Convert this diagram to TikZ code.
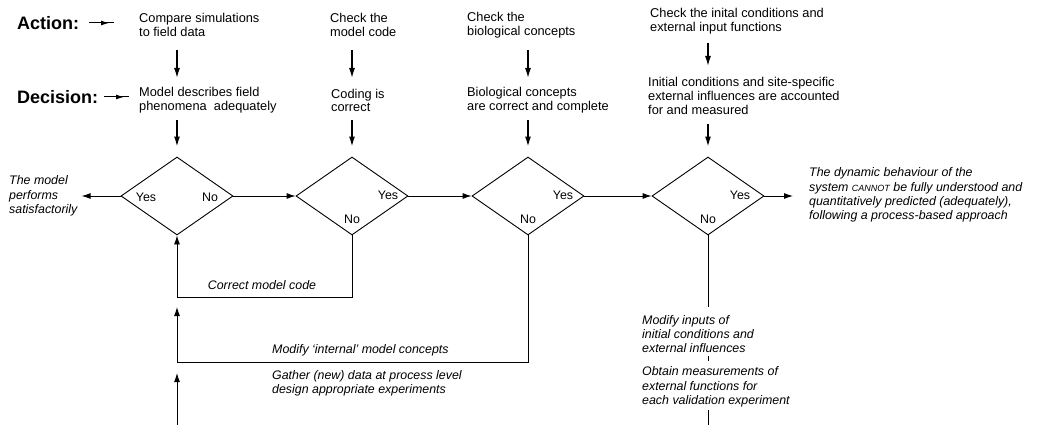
\documentclass[tikz,border=0pt]{standalone}
\usepackage{fontspec}
\setmainfont{Liberation Sans}
\usetikzlibrary{arrows.meta,shapes.geometric,decorations.markings}
\begin{document}
\begin{tikzpicture}[x=1pt,y=-1pt,
  txt/.style={anchor=west,align=left,inner sep=0pt,font=\fontsize{12.8}{13.8}\selectfont},
  itxt/.style={anchor=west,align=left,inner sep=0pt,font=\fontsize{12.4}{14.4}\selectfont\itshape},
  big/.style={anchor=west,inner sep=0pt,font=\fontsize{18}{20}\selectfont\bfseries},
  dia/.style={draw,diamond,minimum width=112pt,minimum height=78pt,inner sep=0pt,line width=0.9pt},
  lab/.style={inner sep=0pt,font=\fontsize{12.4}{13}\selectfont},
  arr/.style={line width=0.9pt,-{Latex[length=9pt,width=6pt]}},
  varr/.style={line width=1.4pt,-{Latex[length=10pt,width=6pt]}},
  ln/.style={line width=0.9pt},
  midarr/.style={line width=1pt,postaction={decorate},
    decoration={markings,mark=at position 0.8 with {\arrow{Latex[length=8pt,width=5pt]}}}},
]
\fill[white] (0,0) rectangle (1045,425);
\useasboundingbox (0,0) rectangle (1045,425);

% row labels
\node[big] (act) at (17,23) {Action:};
\node[big] (dec) at (17,97) {Decision:};
\coordinate (actA) at (89,23);  \coordinate (actB) at (114,23);
\coordinate (decA) at (104,97); \coordinate (decB) at (129,97);
\draw[midarr] (actA) -- (actB);
\draw[midarr] (decA) -- (decB);

% action texts
\node[txt] (a1) at (139,25) {Compare simulations\\to field data};
\node[txt] (a2) at (330,25) {Check the\\model code};
\node[txt] (a3) at (467,25) {Check the\\biological concepts};
\node[txt] (a4) at (650,21) {Check the inital conditions and\\external input functions};

% decision texts
\node[txt] (b1) at (139,100.5) {Model describes field\\phenomena\ \ adequately};
\node[txt] (b2) at (331,100.5) {Coding is\\correct};
\node[txt] (b3) at (467,100.5) {Biological concepts\\are correct and complete};
\node[txt] (b4) at (648,96) {Initial conditions and site-specific\\external influences are accounted\\for and measured};

% diamonds
\node[dia] (d1) at (177,196) {};
\node[dia] (d2) at (352,196) {};
\node[dia] (d3) at (528,196) {};
\node[dia] (d4) at (708,196) {};

\node[lab] (y1) at (146,197) {Yes};
\node[lab] (n1) at (210,197) {No};
\node[lab] (y2) at (388,195) {Yes};
\node[lab] (n2) at (352,219) {No};
\node[lab] (y3) at (563,195) {Yes};
\node[lab] (n3) at (528,219) {No};
\node[lab] (y4) at (740,195) {Yes};
\node[lab] (n4) at (708,219) {No};

% vertical arrows
\coordinate (s1) at (177,50);  \coordinate (e1) at (177,78);  \coordinate (f1) at (177,120);
\coordinate (s2) at (352,50);  \coordinate (e2) at (352,78);  \coordinate (f2) at (352,120);
\coordinate (s3) at (528,50);  \coordinate (e3) at (528,78);  \coordinate (f3) at (528,120);
\coordinate (s4) at (708,43);  \coordinate (e4) at (708,66);  \coordinate (f4) at (708,124);
\foreach \i in {1,2,3,4}{
  \draw[varr] (s\i) -- (e\i);
  \draw[varr,shorten >=10pt] (f\i) -- (d\i.north);
}

% horizontal flow
\node[itxt] (out1) at (9,196) {The model\\performs\\satisfactorily};
\node[itxt] (out4) at (809,195) {The dynamic behaviour of the\\system {\fontsize{9}{10}\selectfont CANNOT} be fully understood and\\quantitatively predicted (adequately),\\following a process-based approach};
\draw[arr,shorten >=4pt] (d1.west) -- (out1.east |- d1.west);
\draw[arr] (d1.east) -- (d2.west);
\draw[arr] (d2.east) -- (d3.west);
\draw[arr] (d3.east) -- (d4.west);
\draw[arr,shorten >=16pt] (d4.east) -- (out4.west |- d4.east);

% loop 1
\coordinate (c1) at (177,297);
\draw[arr] (d2.south) |- (c1) -- (d1.south);
\node[itxt,anchor=center] (lc1) at (262,285) {Correct model code};

% loop 2
\coordinate (c2) at (177,362);
\coordinate (c2t) at (177,307);
\draw[arr] (d3.south) |- (c2) -- (c2t);
\node[itxt] (lc2) at (272,350) {Modify `internal' model concepts};

% loop 3
\coordinate (c3b) at (177,425);
\coordinate (c3t) at (177,373);
\draw[arr] (c3b) -- (c3t);
\node[itxt] (lc3) at (272,383) {Gather (new) data at process level\\design appropriate experiments};

% D4 No branch
\coordinate (c4) at (708,307);
\draw[ln] (d4.south) -- (c4);
\node[itxt] (m4) at (642,334) {Modify inputs of\\initial conditions and\\external influences};
\coordinate (t1) at (708,356); \coordinate (t2) at (708,361);
\draw[ln] (t1) -- (t2);
\node[itxt] (o4) at (642,387) {Obtain measurements of\\external functions for\\each validation experiment};
\coordinate (t3) at (708,410); \coordinate (t4) at (708,425);
\draw[ln] (t3) -- (t4);
\end{tikzpicture}
\end{document}
